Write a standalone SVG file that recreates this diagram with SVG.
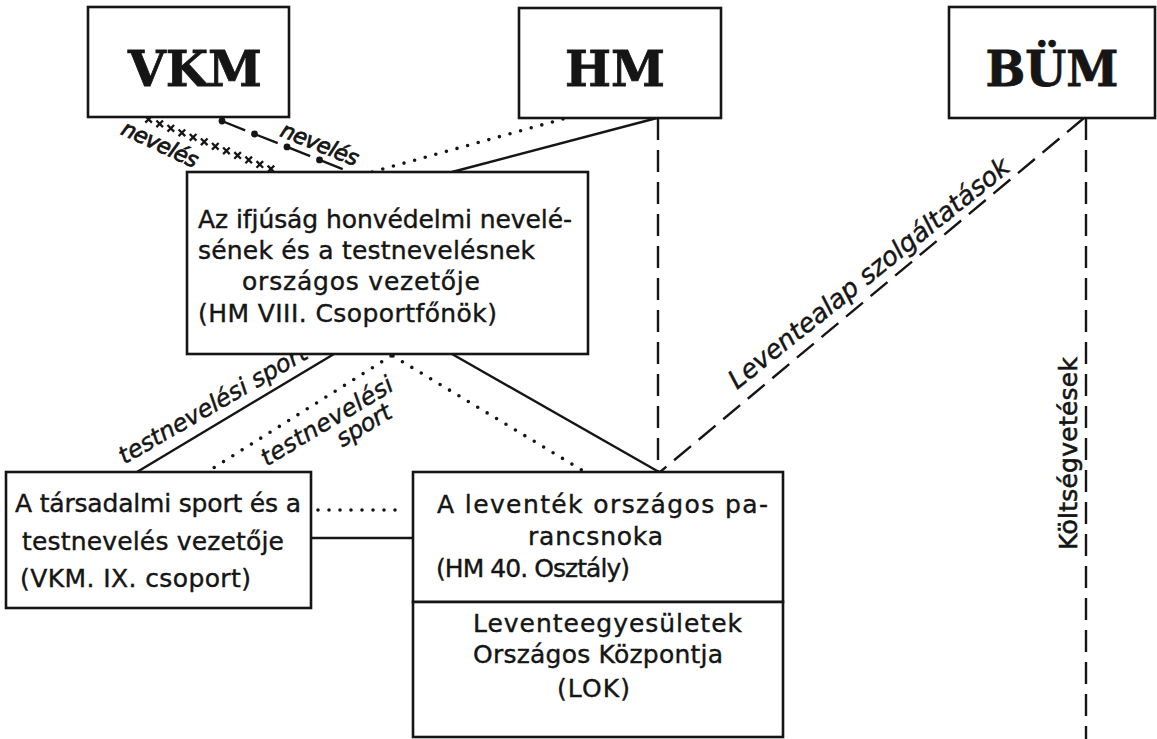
<svg xmlns="http://www.w3.org/2000/svg" xmlns:xlink="http://www.w3.org/1999/xlink" width="1157" height="739" viewBox="0 0 1157 739">
<style>
.bg{fill:#ffffff}
.box{fill:#ffffff;stroke:#151515;stroke-width:2.6}
.ln{stroke:#151515;stroke-width:2.4;fill:none}
.dash{stroke-dasharray:22 10}
.dot{stroke-dasharray:0 11;stroke-linecap:round;stroke-width:3.6}
.h{font-family:"DejaVu Serif","Liberation Serif",serif;font-weight:bold;font-size:48px;fill:#151515;stroke:#151515;stroke-width:0.8;text-anchor:middle}
.t{font-family:"DejaVu Sans","Liberation Sans",sans-serif;font-size:25px;fill:#151515;stroke:#151515;stroke-width:0.4}
.lbl{font-family:"DejaVu Sans","Liberation Sans",sans-serif;font-style:italic;fill:#151515;stroke:#151515;stroke-width:0.45;text-anchor:middle}
.xm{stroke:#151515;stroke-width:2.3;fill:none}
.pt{fill:#151515}
</style>
<defs>
<path id="xmark" class="xm" d="M-3.3,-3.3 L3.3,3.3 M-3.3,3.3 L3.3,-3.3"/>
</defs>
<rect class="bg" x="0" y="0" width="1157" height="739"/>

<g id="connectors">
  <g id="c-vkm-x">
    <use xlink:href="#xmark" href="#xmark" x="148.6" y="119.3"/>
    <use xlink:href="#xmark" href="#xmark" x="159.7" y="123.8"/>
    <use xlink:href="#xmark" href="#xmark" x="170.8" y="128.3"/>
    <use xlink:href="#xmark" href="#xmark" x="181.9" y="132.8"/>
    <use xlink:href="#xmark" href="#xmark" x="193.1" y="137.3"/>
    <use xlink:href="#xmark" href="#xmark" x="204.2" y="141.8"/>
    <use xlink:href="#xmark" href="#xmark" x="215.3" y="146.3"/>
    <use xlink:href="#xmark" href="#xmark" x="226.4" y="150.8"/>
    <use xlink:href="#xmark" href="#xmark" x="237.6" y="155.4"/>
    <use xlink:href="#xmark" href="#xmark" x="248.7" y="159.9"/>
    <use xlink:href="#xmark" href="#xmark" x="259.8" y="164.4"/>
    <use xlink:href="#xmark" href="#xmark" x="270.9" y="168.9"/>
  </g>
  <g id="c-vkm-dd">
    <path class="ln" d="M222,121 L245.2,130.3 M254.5,134 L277.7,143.2 M287,146.9 L310.2,156.2 M319.5,159.9 L342.7,169.2"/>
    <circle class="pt" cx="222" cy="121" r="3.4"/>
    <circle class="pt" cx="254.5" cy="134" r="3.4"/>
    <circle class="pt" cx="287" cy="146.9" r="3.4"/>
    <circle class="pt" cx="319.5" cy="159.9" r="3.4"/>
  </g>
  <path class="ln dot" d="M563,119 L372,172"/>
  <path class="ln" d="M657,118 L452,172"/>
  <path class="ln dash" d="M658,118 L658,472"/>
  <path class="ln dash" d="M1084,118 L660,472"/>
  <path class="ln dash" d="M1086,118 L1086,739"/>
  <path class="ln" d="M334,354 L137,472"/>
  <path class="ln dot" d="M391,356 L207,472"/>
  <path class="ln dot" d="M393,356 L585,472"/>
  <path class="ln" d="M452,354 L659,472"/>
  <path class="ln dot" d="M318,510 L404,510"/>
  <path class="ln" d="M311,538 L413,538"/>

  <text class="lbl" font-size="22" style="stroke-width:0.8" textLength="82" transform="translate(157,151) rotate(25)">nevelés</text>
  <text class="lbl" font-size="22" style="stroke-width:0.8" textLength="82" transform="translate(317,151) rotate(22)">nevelés</text>
  <text class="lbl" font-size="24" textLength="214" transform="translate(217,411) rotate(-30)">testnevelési sport</text>
  <text class="lbl" font-size="24" textLength="150" transform="translate(331,428) rotate(-31)">testnevelési</text>
  <text class="lbl" font-size="24" textLength="60" transform="translate(368,432) rotate(-31)">sport</text>
  <text class="lbl" font-size="26" textLength="352" style="text-anchor:start" transform="translate(737,390) rotate(-38.7)">Leventealap szolgáltatások</text>
  <text class="lbl" font-size="25" textLength="193" style="text-anchor:start;font-style:normal;stroke-width:0.6" transform="translate(1077,550) rotate(-90)">Költségvetések</text>
</g>

<g id="vkm">
  <rect class="box" x="88" y="7" width="201" height="110"/>
  <text class="h" x="195" y="86" textLength="134" lengthAdjust="spacingAndGlyphs">VKM</text>
</g>
<g id="hm">
  <rect class="box" x="519" y="8" width="202" height="110"/>
  <text class="h" x="615" y="86" textLength="100" lengthAdjust="spacingAndGlyphs">HM</text>
</g>
<g id="bum">
  <rect class="box" x="949" y="7" width="206" height="111"/>
  <text class="h" x="1052" y="86" textLength="133" lengthAdjust="spacingAndGlyphs">BÜM</text>
</g>

<g id="central">
  <rect class="box" x="187" y="172" width="401" height="182"/>
  <text class="t" x="198" y="228" textLength="374">Az ifjúság honvédelmi nevelé-</text>
  <text class="t" x="198" y="259" textLength="337">sének és a testnevelésnek</text>
  <text class="t" x="242" y="290" textLength="238">országos vezetője</text>
  <text class="t" x="198" y="322" textLength="299">(HM VIII. Csoportfőnök)</text>
</g>

<g id="tarsadalmi">
  <rect class="box" x="6" y="472" width="305" height="136"/>
  <text class="t" x="15" y="512" textLength="286">A társadalmi sport és a</text>
  <text class="t" x="22" y="550" textLength="262">testnevelés vezetője</text>
  <text class="t" x="20" y="587" textLength="231">(VKM. IX. csoport)</text>
</g>

<g id="leventek">
  <rect class="box" x="413" y="472" width="370" height="130"/>
  <text class="t" x="437" y="513" textLength="331">A leventék országos  pa-</text>
  <text class="t" x="528" y="545" textLength="135">rancsnoka</text>
  <text class="t" x="436" y="577" font-size="21" textLength="194">(HM 40. Osztály)</text>
</g>

<g id="lok">
  <rect class="box" x="413" y="602" width="370" height="135"/>
  <text class="t" x="473" y="632" textLength="269">Leventeegyesületek</text>
  <text class="t" x="473" y="663" textLength="250">Országos Központja</text>
  <text class="t" x="557" y="697" textLength="73">(LOK)</text>
</g>
</svg>
